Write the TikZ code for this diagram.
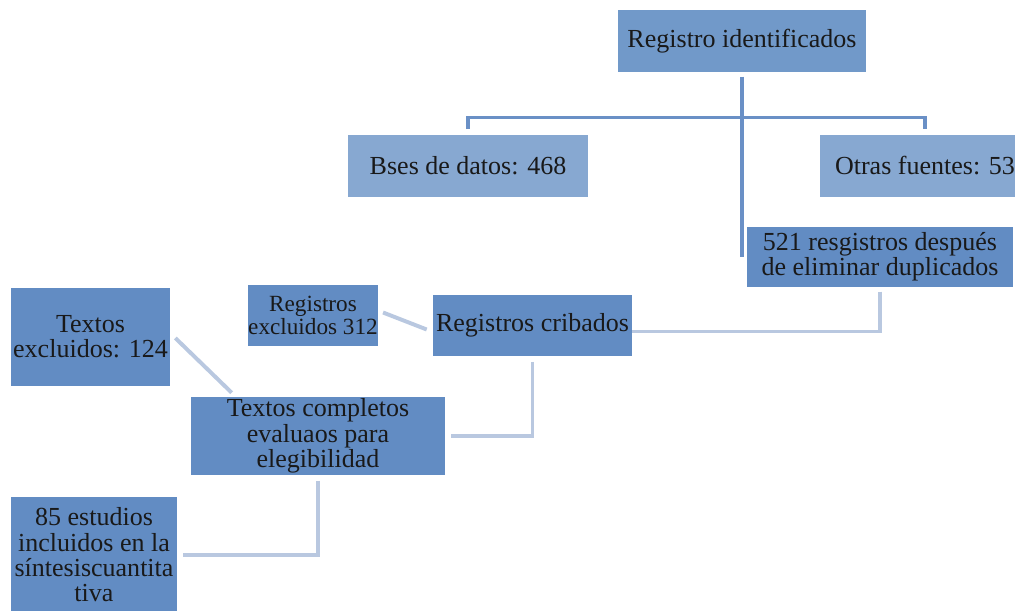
\documentclass[tikz,border=0pt]{standalone}
\usepackage{fontspec}
\setmainfont{Liberation Serif}
\usepackage{tikz}
\usetikzlibrary{calc}

\definecolor{boxblue}{HTML}{628CC3}
\definecolor{topblue}{HTML}{7199C9}
\definecolor{paleblue}{HTML}{87A8D1}
\definecolor{linedark}{HTML}{6A90C6}
\definecolor{linelight}{HTML}{B9C8E0}

\begin{document}
\begin{tikzpicture}[x=0.025cm, y=-0.025cm,
	every node/.style={rectangle, fill=boxblue, inner sep=0pt, align=center, text=black!90, font=\fontsize{18.5}{18}\selectfont},
	topline/.style={draw=linedark, line width=2.2pt},
	light/.style={draw=linelight, line width=2.8pt}]
			\clip (0,0) rectangle (1015,611);
			\fill[white] (0,0) rectangle (1015,611);
			
			\node[fill=topblue, minimum width=6.2cm, minimum height=1.55cm] (ident) at (742,41){Registro identificados};
			\node[fill=paleblue, minimum width=6.0cm, minimum height=1.55cm] (bses) at (468,166){Bses de datos: 468};
			\node[fill=paleblue, minimum width=5.25cm, minimum height=1.55cm] (otras) at (925,166){Otras fuentes: 53};
			\node[minimum width=6.65cm, minimum height=1.5cm] (res) at (880,257){521 resgistros después\\de eliminar duplicados};
			\node[minimum width=3.2cm, minimum height=1.525cm, font=\fontsize{16.5}{16.5}\selectfont] (excl) at (313,315.5){Registros\\excluidos 312};
			\node[minimum width=4.975cm, minimum height=1.525cm] (crib) at (532.5,325.5){Registros cribados};
			\node[minimum width=3.975cm, minimum height=2.45cm] (texcl) at (90.5,337){Textos\\excluidos: 124};
			\node[minimum width=6.35cm, minimum height=1.95cm] (comp) at (318,436){Textos completos\\evaluaos para\\elegibilidad};
			\node[minimum width=4.15cm, minimum height=2.9cm] (est) at (94,555){85 estudios\\incluidos en la\\síntesiscuantita\\tiva};
			
			\path[topline, shorten <=3pt] (ident.south) edge (ident.south |- res.center);
			\draw[topline] ([yshift=4pt]bses.north) -- ++(0,-12) -| ([yshift=4pt]otras.north);
			\draw[light, shorten <=3pt] (res.south) |- ($(crib.east)+(0,6)$);
			\draw[light, shorten <=4pt, shorten >=4pt] (crib.south) |- (comp.east);
			\draw[light, shorten <=4pt, shorten >=4pt] (comp.south) |- (est.east);
			\path[light] ($(excl.east)+(5,-3)$) edge ($(crib.west)+(-6,4)$);
			\path[light] ($(texcl.east)+(5,1)$) edge ($(comp.north west)+(41,-4)$);
			\end{tikzpicture}
\end{document}
